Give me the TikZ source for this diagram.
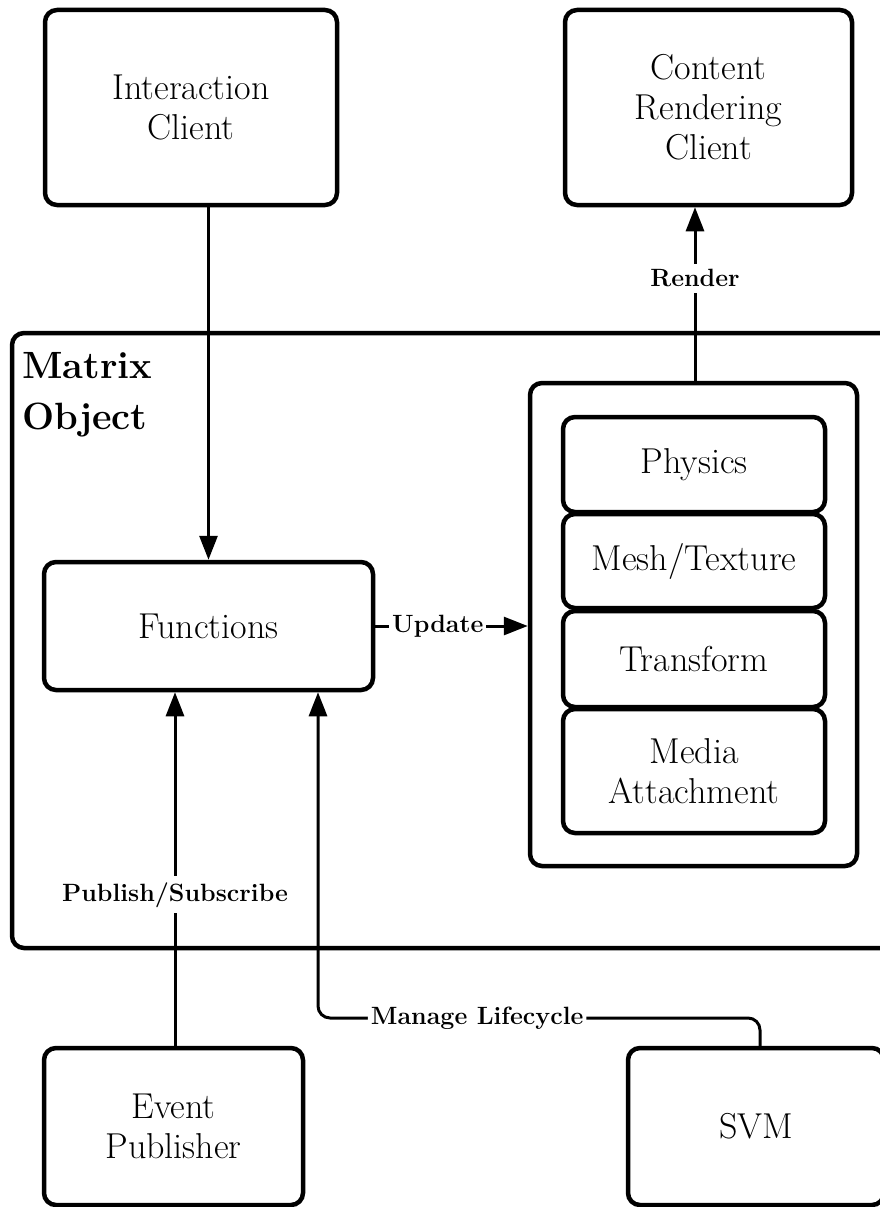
\documentclass[tikz,border=0pt]{standalone}
\usepackage{fontspec}
\usetikzlibrary{arrows.meta}
\begin{document}
\begin{tikzpicture}[x=1pt,y=-1pt,
  box/.style={draw, line width=4.5pt, rounded corners=12pt, align=center,
    inner sep=0pt, font=\fontsize{36}{40}\selectfont},
  conn/.style={line width=3pt, -{Triangle[length=24pt,width=18pt]}},
  lbl/.style={fill=white, font=\bfseries\fontsize{25}{30}\selectfont,
    inner xsep=3pt, inner ysep=6pt},
  title/.style={anchor=north west, align=left, inner sep=0pt,
    font=\bfseries\fontsize{38}{51}\selectfont}]
\useasboundingbox (0,0) rectangle (880,1207);
\clip (0,0) rectangle (880,1207);

% clients
\node[box, minimum width=292, minimum height=195] (ic) at (191,107.5)
  {Interaction\\Client};
\node[box, minimum width=287, minimum height=195] (crc) at (708.5,107.5)
  {Content\\Rendering\\Client};

% matrix object container
\node[box, minimum width=888, minimum height=615] (mo) at (456,640.5) {};
\node[title] (mtitle) at (22,352) {Matrix\\Object};

% functions
\node[box, minimum width=329, minimum height=128] (func) at (208.5,626)
  {Functions};

% component stack
\node[box, minimum width=327, minimum height=483] (comp) at (693.5,624.5) {};
\node[box, minimum width=262, minimum height=95] (phys) at (694,464.5) {Physics};
\node[box, minimum width=262, minimum height=94] (mesh) at (694,561) {Mesh/Texture};
\node[box, minimum width=262, minimum height=96] (trans) at (694,659) {Transform};
\node[box, minimum width=262, minimum height=124] (media) at (694,771)
  {Media\\Attachment};

% bottom boxes
\node[box, minimum width=259, minimum height=157] (ep) at (173.5,1126.5)
  {Event\\Publisher};
\node[box, minimum width=256, minimum height=157] (svm) at (756,1126.5) {SVM};

% connector guides
\coordinate (psx) at (175,0);
\coordinate (mlx) at (318,0);
\coordinate (svmx) at (760,0);
\coordinate (mly) at (0,1018);
\coordinate (rx) at (695,0);

% connectors
\draw[conn] (func.north |- ic.south) -- (func.north);
\draw[conn] (comp.north -| rx) -- node[lbl, pos=0.59] {Render} (crc.south -| rx);
\draw[conn] (func.east) -- node[lbl, pos=0.41] {Update} (func.east -| comp.west);
\draw[conn] (ep.north -| psx) -- node[lbl, pos=0.427] {Publish/Subscribe} (func.south -| psx);
\draw[conn, rounded corners=12pt] (svm.north -| svmx) -- (svmx |- mly)
  -- node[lbl, pos=0.64] {Manage Lifecycle} (mlx |- mly) -- (func.south -| mlx);
\end{tikzpicture}
\end{document}
